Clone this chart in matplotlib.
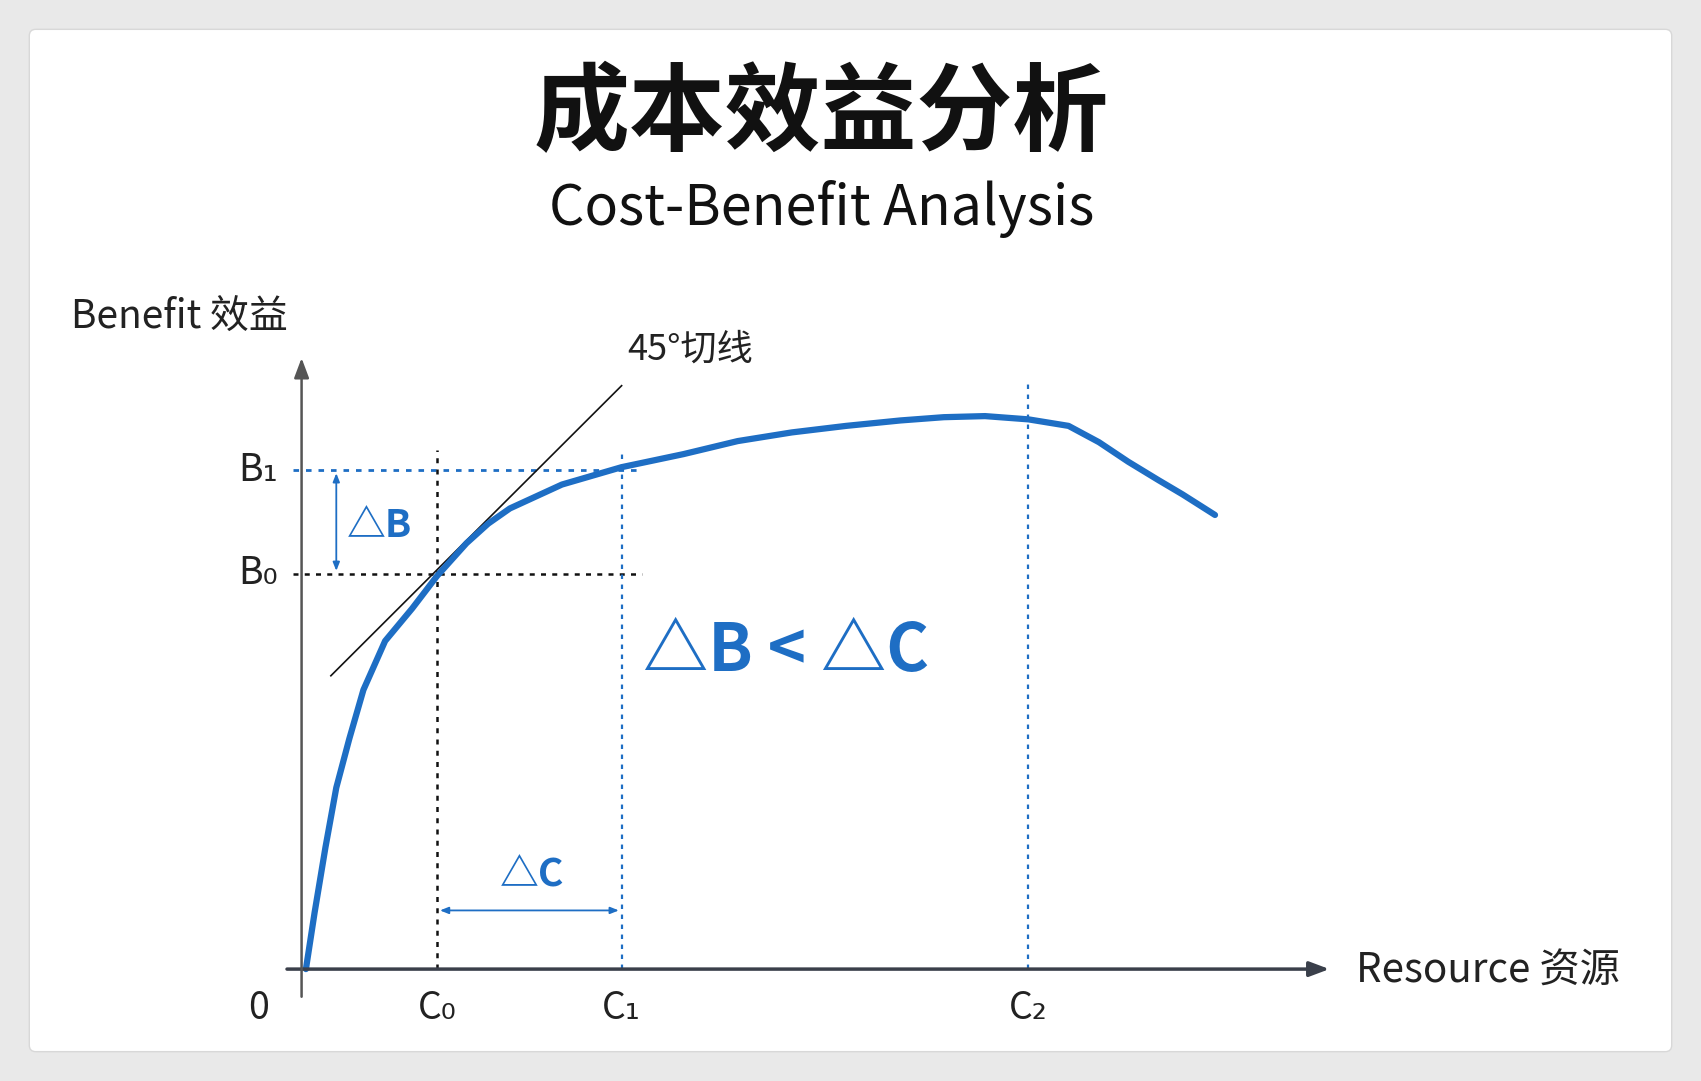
import numpy as np
import matplotlib.pyplot as plt
from matplotlib.patches import FancyBboxPatch

plt.rcParams['font.family'] = ['Noto Sans CJK SC', 'DejaVu Sans']

# benefit curve (resource, benefit), origin at the axes crossing
resource = [4, 12, 22, 32, 44, 57, 77, 102, 125, 152, 172, 192, 240, 295, 352, 402, 452, 502, 552, 592, 630, 670, 707, 735, 762, 790, 812, 842]
benefit = [0, 52, 112, 167, 212, 257, 302, 332, 362, 392, 410, 424, 446, 462, 474, 486, 494, 500, 505, 508, 509, 506, 500, 485, 467, 450, 437, 418]
tick_x = {'0': -40, 'C₀': 125, 'C₁': 295, 'C₂': 670}
b0, b1 = 364, 459
c0, c1, c2 = 125, 295, 670
blue = '#1e6ec4'

W, H = 1568, 995
fig = plt.figure(figsize=(17.01, 10.81), dpi=100)
bg = fig.add_axes([0, 0, 1, 1])
bg.set_xlim(0, W); bg.set_ylim(H, 0); bg.axis('off')
bg.add_patch(plt.Rectangle((0, 0), W, H, color='#e9e9e9', zorder=0))
bg.add_patch(FancyBboxPatch((27, 27), W - 54, 941, boxstyle='round,pad=0,rounding_size=6',
                            fc='white', ec='#d8d8d8', zorder=1))
bg.text(757, 106, '成本效益分析', fontsize=69, fontweight='bold', ha='center', va='center', color='#111')
bg.text(757, 192, 'Cost-Benefit Analysis', fontsize=40, ha='center', va='center', color='#111')

ox, oy = 278, 892
ax = fig.add_axes([0, 0, 1, 1], facecolor='none')
ax.set_xlim(-ox, W - ox); ax.set_ylim(oy - H, oy); ax.axis('off')

# axes arrows
ax.annotate('', xy=(950, 0), xytext=(-16, 0),
            arrowprops=dict(arrowstyle='-|>,head_length=1.2,head_width=0.45', color='#3a3f4a', lw=2.5))
ax.annotate('', xy=(0, 565), xytext=(0, -28),
            arrowprops=dict(arrowstyle='-|>,head_length=1.2,head_width=0.45', color='#555', lw=1.8))

# guide lines
ax.plot([-8, 314], [b1, b1], ls=(0, (2, 2.5)), color=blue, lw=2)
ax.plot([-8, 314], [b0, b0], ls=(0, (2, 2.5)), color='#111', lw=1.8)
ax.plot([c0, c0], [0, 478], ls=(0, (2, 2.5)), color='#111', lw=1.8)
ax.plot([c1, c1], [0, 474], ls=(0, (2, 2.5)), color=blue, lw=1.6)
ax.plot([c2, c2], [0, 542], ls=(0, (2, 2.5)), color=blue, lw=1.6)

# tangent
ax.plot([27, 295], [270, 537], color='#111', lw=1.2)

# curve
ax.plot(resource, benefit, color=blue, lw=4.5, solid_capstyle='round', solid_joinstyle='round')

# delta arrows
ax.annotate('', xy=(32, b1), xytext=(32, b0),
            arrowprops=dict(arrowstyle='<|-|>,head_length=0.5,head_width=0.2', color=blue, lw=1.3))
ax.annotate('', xy=(c1, 54), xytext=(c0, 54),
            arrowprops=dict(arrowstyle='<|-|>,head_length=0.5,head_width=0.2', color=blue, lw=1.3))

ax.text(72, 408, '△B', fontsize=28, fontweight='heavy', color=blue, ha='center', va='center')
ax.text(212, 87, '△C', fontsize=28, fontweight='heavy', color=blue, ha='center', va='center')
ax.text(447, 292, '△B < △C', fontsize=47, fontweight='heavy', color=blue, ha='center', va='center')

ax.text(-213, 599, 'Benefit 效益', fontsize=28, color='#222', ha='left', va='center')
ax.text(972, -1, 'Resource 资源', fontsize=29, color='#222', ha='left', va='center')
ax.text(300, 570, '45°切线', fontsize=26, color='#222', ha='left', va='center')
ax.text(-22, b1, 'B₁', fontsize=27, color='#222', ha='right', va='center')
ax.text(-22, b0, 'B₀', fontsize=27, color='#222', ha='right', va='center')
for lab, x in tick_x.items():
    ax.text(x, -36, lab, fontsize=27, color='#222', ha='center', va='center')

fig.savefig('out.png', dpi=100)
